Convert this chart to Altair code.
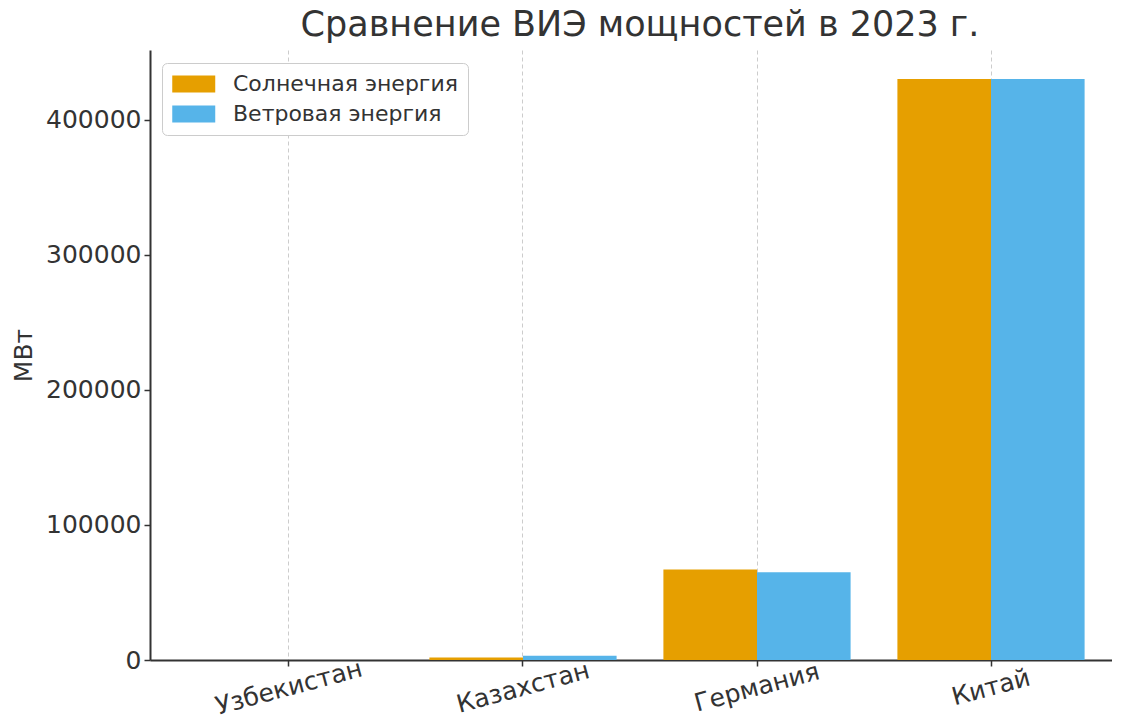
import altair as alt
import pandas as pd

countries = ["Узбекистан", "Казахстан", "Германия", "Китай"]
series = ["Солнечная энергия", "Ветровая энергия"]
solar = [0, 1900, 67000, 430000]
wind = [0, 3100, 65000, 430000]
colors = ["#E69F00", "#56B4E9"]

rows = []
for c, s, w in zip(countries, solar, wind):
    rows.append({"country": c, "type": series[0], "value": s})
    rows.append({"country": c, "type": series[1], "value": w})
df = pd.DataFrame(rows)

FONT = "DejaVu Sans"
TXT = "#333333"

chart = alt.Chart(df).mark_bar().encode(
    x=alt.X("country:N", sort=countries,
            scale=alt.Scale(range=[0, 980], paddingInner=0.2, paddingOuter=0.194),
            axis=alt.Axis(title=None, labelAngle=-15, labelAlign="center",
                          labelBaseline="middle", labelPadding=21, labelFontSize=25,
                          labelColor=TXT, labelFont=FONT, tickSize=6, tickWidth=1.5,
                          tickColor=TXT, domainColor=TXT, domainWidth=2,
                          grid=True, gridColor="#cccccc", gridDash=[4, 3], gridWidth=1)),
    xOffset=alt.XOffset("type:N", sort=series, scale=alt.Scale(paddingInner=0, paddingOuter=0)),
    y=alt.Y("value:Q", scale=alt.Scale(domain=[0, 451500], nice=False),
            axis=alt.Axis(title="МВт", values=[0, 100000, 200000, 300000, 400000],
                          format="d", labelFontSize=25, labelColor=TXT, labelFont=FONT,
                          labelPadding=3, tickSize=6, tickWidth=1.5, tickColor=TXT,
                          domainColor=TXT, domainWidth=2, grid=False,
                          titleFontSize=25, titleFont=FONT, titleColor=TXT,
                          titleFontWeight="normal", titleX=-119, titleBaseline="alphabetic")),
    color=alt.Color("type:N", sort=series,
                    scale=alt.Scale(domain=series, range=colors),
                    legend=alt.Legend(title=None, orient="none", legendX=12, legendY=13,
                                      fillColor="white", strokeColor="#cccccc",
                                      cornerRadius=5, padding=10,
                                      symbolType="M-1,-0.8H3V0.8H-1Z", symbolSize=462,
                                      symbolStrokeWidth=0, symbolOpacity=1,
                                      labelFontSize=22, labelFont=FONT, labelColor=TXT,
                                      labelLimit=500, labelOffset=39, rowPadding=8)),
).properties(
    width=962, height=610,
    title=alt.TitleParams("Сравнение ВИЭ мощностей в 2023 г.", fontSize=35, font=FONT,
                          color=TXT, fontWeight="normal", anchor="middle", dx=9,
                          offset=-21, baseline="alphabetic"),
    autosize=alt.AutoSizeParams(type="none"),
    padding={"left": 142, "top": 42, "right": 0, "bottom": 56},
).configure_view(stroke=None)

chart.save("out.html", embed_options={"renderer": "svg", "actions": False})
